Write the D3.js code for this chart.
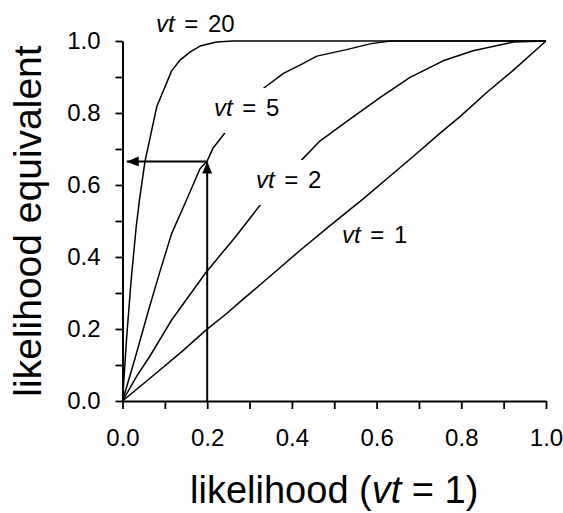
<!DOCTYPE html>
<html>
<head>
<meta charset="utf-8">
<script src="https://cdn.jsdelivr.net/npm/d3@7/dist/d3.min.js"></script>
<style>
  body { margin: 0; background: #fff; }
  text { font-family: "Liberation Sans", Arial, sans-serif; fill: #000; }
</style>
</head>
<body>
<div id="chart"></div>
<script>
// curve data, [likelihood, likelihood equivalent]
var vt1 = [[0,0],[0.077,0.075],[0.14,0.137],[0.197,0.197],[0.246,0.243],[0.285,0.283],[0.336,0.334],
  [0.419,0.418],[0.49,0.487],[0.569,0.562],[0.632,0.625],[0.687,0.68],[0.75,0.744],[0.797,0.79],
  [0.86,0.857],[0.923,0.919],[1,1]];
var vt2 = [[0,0],[0.034,0.07],[0.065,0.125],[0.116,0.225],[0.197,0.357],[0.266,0.455],[0.325,0.544],
  [0.421,0.667],[0.466,0.722],[0.529,0.776],[0.608,0.843],[0.679,0.899],[0.757,0.945],[0.828,0.973],
  [0.923,0.997],[1,1]];
var vt5 = [[0,0],[0.03,0.12],[0.061,0.25],[0.0885,0.36],[0.116,0.465],[0.148,0.55],[0.183,0.645],
  [0.2,0.667],[0.214,0.703],[0.244,0.748],[0.33,0.866],[0.38,0.91],[0.419,0.933],[0.459,0.958],
  [0.529,0.976],[0.584,0.992],[0.632,1],[1,1]];
var vt20 = [[0,0],[0.01,0.18],[0.02,0.33],[0.032,0.48],[0.04,0.558],[0.053,0.665],[0.081,0.818],
  [0.116,0.917],[0.136,0.947],[0.16,0.97],[0.183,0.986],[0.222,0.997],[0.26,1],[1,1]];

var curveNames = ["1", "2", "5", "20"];
var tickValues = [0, 0.1, 0.2, 0.3, 0.4, 0.5, 0.6, 0.7, 0.8, 0.9, 1.0];

// the arrow: read likelihood 0.2 up to vt = 5, then across
var arrowX = 0.2;
var arrowY = 0.665;

// margins
var svgWidth = 563;
var svgHeight = 513;
var margin = { top: 41, right: 17, bottom: 112, left: 122.5 };
var width = svgWidth - margin.left - margin.right;
var height = svgHeight - margin.top - margin.bottom;

var svg = d3.select("#chart")
  .append("svg")
  .attr("width", svgWidth)
  .attr("height", svgHeight);

var chartGroup = svg.append("g")
  .attr("transform", `translate(${margin.left}, ${margin.top})`);

var x = d3.scaleLinear().domain([0, 1]).range([0, width]);
var y = d3.scaleLinear().domain([0, 1]).range([height, 0]);

var line = d3.line()
  .x(d => x(d[0]))
  .y(d => y(d[1]));

// curves
[vt1, vt2, vt5, vt20].forEach(function(series) {
  chartGroup.append("path")
    .datum(series)
    .attr("d", line)
    .attr("fill", "none")
    .attr("stroke", "#000")
    .attr("stroke-width", 1.5)
    .attr("stroke-linejoin", "round");
});

// curve labels (white boxes break the lines like the original)
var labelPos = {
  "20": { px: 156, py: 32, box: false },
  "5":  { px: 214, py: 116, box: true },
  "2":  { px: 256, py: 188, box: true },
  "1":  { px: 342, py: 243, box: false }
};

curveNames.forEach(function(name) {
  var p = labelPos[name];
  if (p.box) {
    svg.append("rect")
      .attr("x", p.px - 6)
      .attr("y", p.py - 28)
      .attr("width", 84)
      .attr("height", 45)
      .attr("fill", "#fff");
  }
  var t = svg.append("text")
    .attr("x", p.px)
    .attr("y", p.py)
    .attr("font-size", "24px")
    .attr("word-spacing", "3px")
    .attr("xml:space", "preserve");
  t.append("tspan").attr("font-style", "italic").text("vt");
  t.append("tspan").text(" = " + name);
});

// arrow
var defs = svg.append("defs");
defs.append("marker")
  .attr("id", "head")
  .attr("viewBox", "0 0 12 10")
  .attr("refX", 12)
  .attr("refY", 5)
  .attr("markerWidth", 12)
  .attr("markerHeight", 11)
  .attr("markerUnits", "userSpaceOnUse")
  .attr("orient", "auto")
  .append("path")
  .attr("d", "M0,0 L12,5 L0,10 Z")
  .attr("fill", "#000");

chartGroup.append("line")
  .attr("x1", x(arrowX)).attr("y1", y(0))
  .attr("x2", x(arrowX)).attr("y2", y(arrowY))
  .attr("stroke", "#000").attr("stroke-width", 2)
  .attr("marker-end", "url(#head)");

chartGroup.append("line")
  .attr("x1", x(arrowX)).attr("y1", y(arrowY))
  .attr("x2", x(0.01)).attr("y2", y(arrowY))
  .attr("stroke", "#000").attr("stroke-width", 2)
  .attr("marker-end", "url(#head)");

// axes
function fmt(d) {
  return Math.round(d * 10) % 2 === 0 ? d3.format(".1f")(d) : "";
}

var bottomAxis = d3.axisBottom(x)
  .tickValues(tickValues)
  .tickFormat(fmt)
  .tickSize(8)
  .tickSizeOuter(0)
  .tickPadding(20);

var leftAxis = d3.axisLeft(y)
  .tickValues(tickValues)
  .tickFormat(fmt)
  .tickSize(7)
  .tickSizeOuter(0)
  .tickPadding(15);

var xAxis = chartGroup.append("g")
  .attr("transform", `translate(0, ${height})`)
  .call(bottomAxis);

var yAxis = chartGroup.append("g")
  .call(leftAxis);

[xAxis, yAxis].forEach(function(a) {
  a.select(".domain").attr("stroke", "#000").attr("stroke-width", 2);
  a.selectAll(".tick line").attr("stroke", "#000").attr("stroke-width", 1.8);
  a.selectAll(".tick text")
    .attr("font-size", "24px")
    .attr("font-family", "'Liberation Sans', Arial, sans-serif")
    .attr("fill", "#000");
});

// axis titles
var xTitle = svg.append("text")
  .attr("x", margin.left + width / 2)
  .attr("y", 503)
  .attr("text-anchor", "middle")
  .attr("font-size", "38px")
  .attr("xml:space", "preserve");
xTitle.append("tspan").text("likelihood (");
xTitle.append("tspan").attr("font-style", "italic").text("vt");
xTitle.append("tspan").text(" = 1)");

svg.append("text")
  .attr("transform", `translate(41, ${margin.top + height / 2}) rotate(-90)`)
  .attr("text-anchor", "middle")
  .attr("font-size", "39px")
  .text("likelihood equivalent");
</script>
</body>
</html>
